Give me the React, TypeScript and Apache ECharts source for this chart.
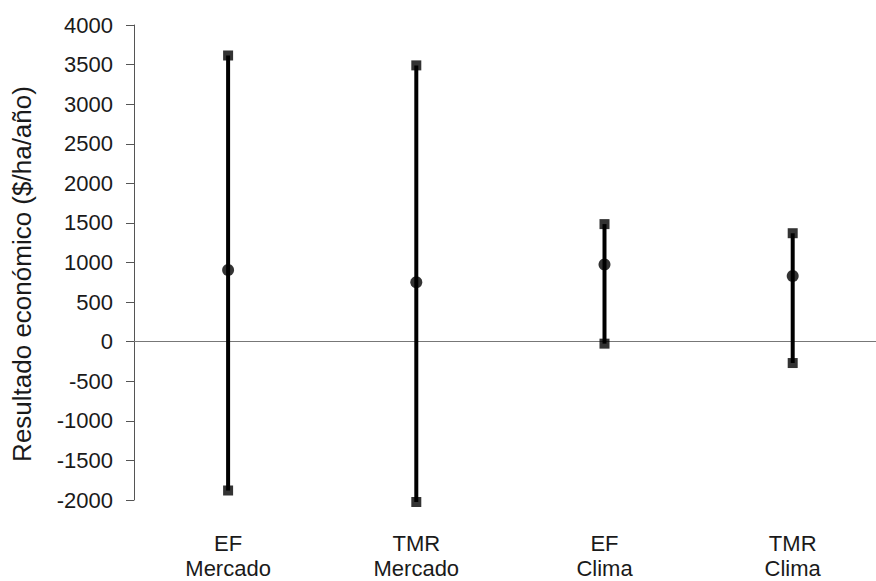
import React, { useEffect, useRef } from "react";
import * as echarts from "echarts";

const categories = ["EF\nMercado", "TMR\nMercado", "EF\nClima", "TMR\nClima"];
const highValues = [3615, 3490, 1485, 1370];
const lowValues = [-1880, -2025, -25, -270];
const meanValues = [905, 750, 975, 830];
const yTicks = { min: -2000, max: 4000, interval: 500 };

const FONT = "'Liberation Sans', Arial, sans-serif";
const TEXT = "#1a1a1a";

export default function App() {
  const ref = useRef<HTMLDivElement>(null);
  useEffect(() => {
    if (!ref.current) return;
    const chart = echarts.init(ref.current, null, { renderer: "svg" });
    const rangeData = categories.map((_, i) => [i, lowValues[i], highValues[i]]);
    const endData: number[][] = [];
    categories.forEach((_, i) => {
      endData.push([i, highValues[i]]);
      endData.push([i, lowValues[i]]);
    });
    const meanData = categories.map((_, i) => [i, meanValues[i]]);
    chart.setOption({
      animation: false,
      backgroundColor: "#ffffff",
      textStyle: { fontFamily: FONT },
      grid: { left: 134, top: 25, width: 752.8, height: 477.7, containLabel: false },
      xAxis: {
        type: "category",
        data: categories,
        boundaryGap: true,
        axisLine: { show: false },
        axisTick: { show: false },
        splitLine: { show: false },
        axisLabel: {
          color: TEXT,
          fontSize: 22,
          lineHeight: 25,
          fontFamily: FONT,
          margin: 31,
          interval: 0,
        },
      },
      yAxis: {
        type: "value",
        min: yTicks.min,
        max: yTicks.max,
        interval: yTicks.interval,
        axisLine: { show: true, onZero: false, lineStyle: { color: "#555", width: 1 } },
        axisTick: { show: true, inside: false, length: 8, lineStyle: { color: "#555", width: 1 } },
        splitLine: { show: false },
        axisLabel: {
          color: TEXT,
          fontSize: 22,
          fontFamily: FONT,
          margin: 21,
          formatter: (v: number) => String(v),
        },
      },
      graphic: [
        {
          type: "text",
          x: 22,
          y: 274,
          rotation: Math.PI / 2,
          style: {
            text: "Resultado económico ($/ha/año)",
            fill: TEXT,
            font: `26px ${FONT}`,
            textAlign: "center",
            textVerticalAlign: "middle",
          },
        },
      ],
      series: [
        {
          type: "custom",
          data: rangeData,
          clip: false,
          z: 2,
          renderItem: (params: any, api: any) => {
            const i = api.value(0);
            const p1 = api.coord([i, api.value(1)]);
            const p2 = api.coord([i, api.value(2)]);
            return {
              type: "line",
              shape: { x1: p1[0], y1: p1[1], x2: p2[0], y2: p2[1] },
              style: { stroke: "#000", lineWidth: 4 },
            };
          },
          markLine: {
            silent: true,
            symbol: ["none", "none"],
            label: { show: false },
            lineStyle: { color: "#777", width: 1, type: "solid" },
            data: [{ yAxis: 0 }],
            z: 1,
          },
        },
        {
          type: "scatter",
          data: endData,
          clip: false,
          symbol: "rect",
          symbolSize: 10,
          itemStyle: { color: "#000" },
          z: 3,
        },
        {
          type: "scatter",
          data: meanData,
          clip: false,
          symbol: "circle",
          symbolSize: 12,
          itemStyle: { color: "#000" },
          z: 4,
        },
      ],
    });
    return () => chart.dispose();
  }, []);
  return (
    <div
      style={{
        position: "absolute",
        left: 0,
        top: 0,
        width: 876,
        height: 581,
        overflow: "hidden",
      }}
    >
      <div ref={ref} style={{ width: 900, height: 581 }} />
    </div>
  );
}
